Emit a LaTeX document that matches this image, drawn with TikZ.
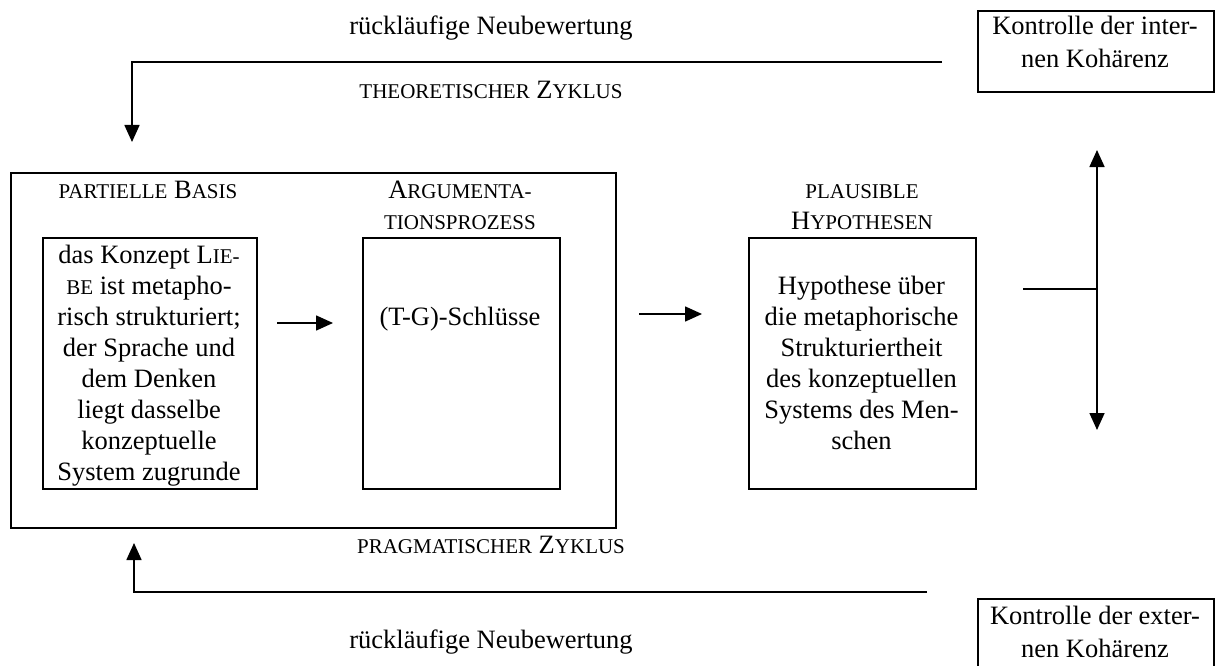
\documentclass[tikz,border=0pt]{standalone}
\usepackage{fontspec}
\setmainfont{Liberation Serif}
\usetikzlibrary{arrows.meta}
% hand-made small capitals: upper-case letters set at a reduced size
\newcommand{\ksc}[1]{{\fontsize{21}{31}\selectfont #1}}

\begin{document}
\begin{tikzpicture}[x=1pt,y=-1pt,
  box/.style={draw, line width=1.8pt, inner sep=0pt, anchor=north west},
  txt/.style={align=center, inner sep=0pt, anchor=north,
              font=\fontsize{26.5}{31}\selectfont},
  lbl/.style={inner sep=0pt, anchor=base, font=\fontsize{26.5}{31}\selectfont},
  link/.style={line width=1.6pt},
  tip/.style={-{Triangle[length=17pt,width=15pt]}},
]
\useasboundingbox (0,0) rectangle (1215,666);
\clip (0,0) rectangle (1215,666);

% frames
\node[box, minimum width=605pt, minimum height=355pt] (outer) at (10,172) {};
\node[box, minimum width=214pt, minimum height=251pt] (basis) at (42,237) {};
\node[box, minimum width=197pt, minimum height=251pt] (argu) at (362,237) {};
\node[box, minimum width=227pt, minimum height=251pt] (hypo) at (748,237) {};
\node[box, minimum width=236pt, minimum height=81pt] (kint) at (977,10) {};
\node[box, minimum width=236pt, minimum height=110pt] (kext) at (977,598) {};

% headings above the frames
\node[lbl] (lbasis) at (148,198) {\ksc{PARTIELLE} B\ksc{ASIS}};
\node[txt] (largu) at (460,176.3) {\strut A\ksc{RGUMENTA-}\\\ksc{TIONSPROZESS}};
\node[txt] (lhypo) at (862,176.3) {\strut\ksc{PLAUSIBLE}\\H\ksc{YPOTHESEN}};

% contents of the frames
\node[txt] (tbasis) at (149,241.3) {\strut das Konzept L\ksc{IE-}\\\ksc{BE} ist metapho-\\risch strukturiert;\\der Sprache und\\dem Denken\\liegt dasselbe\\konzeptuelle\\System zugrunde};
\node[lbl] (targu) at (460,325) {(T-G)-Schlüsse};
\node[txt] (thypo) at (861.5,272.3) {\strut Hypothese über\\die metaphorische\\Strukturiertheit\\des konzeptuellen\\Systems des Men-\\schen};
\node[txt, font=\fontsize{26.5}{33}\selectfont] (tkint) at (1095,10.9) {\strut Kontrolle der inter-\\nen Kohärenz};
\node[txt, font=\fontsize{26.5}{33}\selectfont] (tkext) at (1095,600.9) {\strut Kontrolle der exter-\\nen Kohärenz};

% cycle labels
\node[lbl] (rtop) at (491,35) {rückläufige Neubewertung};
\node[lbl] (theo) at (491,99) {\ksc{THEORETISCHER} Z\ksc{YKLUS}};
\node[lbl] (prag) at (491,553) {\ksc{PRAGMATISCHER} Z\ksc{YKLUS}};
\node[lbl] (rbot) at (491,648) {rückläufige Neubewertung};

% end points of the connectors
\coordinate (topend) at (942,62);
\coordinate (toptip) at (132,142);
\coordinate (botend) at (927,592);
\coordinate (bottip) at (134,543);
\coordinate (a1s) at (277,323);
\coordinate (a1e) at (333,323);
\coordinate (a2s) at (639,314);
\coordinate (a2e) at (702,314);
\coordinate (tstub) at (1023,289);
\coordinate (tjoin) at (1097,289);
\coordinate (tup) at (1097,150);
\coordinate (tdown) at (1097,430);

% connectors
\draw[link, tip] (topend) -| (toptip);
\draw[link, tip] (botend) -| (bottip);
\draw[link, tip] (a1s) -- (a1e);
\draw[link, tip] (a2s) -- (a2e);
\draw[link] (tstub) -- (tjoin);
\draw[link, tip] (tjoin) -- (tup);
\draw[link, tip] (tjoin) -- (tdown);
\end{tikzpicture}
\end{document}
